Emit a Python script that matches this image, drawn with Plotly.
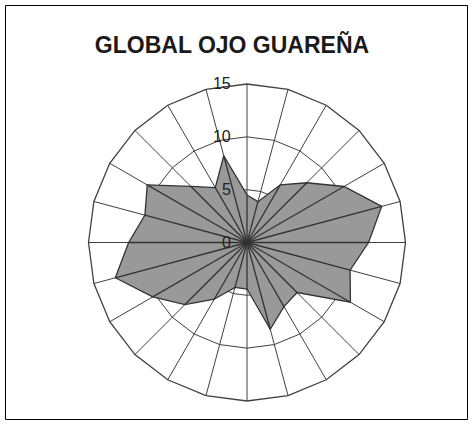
import plotly.graph_objects as go

title_text = "GLOBAL OJO GUAREÑA"
directions = [str(d) for d in range(0, 360, 15)]
values = [4.5, 4.0, 6.3, 8.0, 10.6, 13.2, 11.5, 10.1, 11.3, 6.7, 7.0, 8.5,
          4.4, 4.4, 6.2, 8.3, 10.3, 12.9, 11.2, 10.0, 10.9, 7.5, 6.0, 8.5]
radial_ticks = [0, 5, 10, 15]

W, H = 474, 425
fig = go.Figure()

# filled series
fig.add_trace(go.Scatterpolar(
    r=values + [values[0]], theta=directions + [directions[0]],
    mode="lines", fill="toself", fillcolor="#999999",
    line=dict(color="#333333", width=1.3), hoverinfo="skip", showlegend=False))

# spokes drawn on top of the fill (Excel style)
sr, st = [], []
for d, v in zip(directions, values):
    sr += [0, v, None]
    st += [d, d, None]
fig.add_trace(go.Scatterpolar(
    r=sr, theta=st, mode="lines", connectgaps=False,
    line=dict(color="#333333", width=1.3), hoverinfo="skip", showlegend=False))

# tick labels sit a little to the left of the vertical axis
def padded(v):
    return str(v) + "\u00a0" * 3

cx, cy, rad = 247, 242.5, 158.5
fig.update_layout(
    width=W, height=H,
    margin=dict(l=0, r=0, t=0, b=0),
    paper_bgcolor="white",
    showlegend=False,
    title=dict(text=title_text, x=232 / W, xanchor="center",
               y=1 - 45 / H, yanchor="middle",
               font=dict(family="Arial, Liberation Sans", size=23, color="#1a1a1a", weight="bold")),
    polar=dict(
        domain=dict(x=[(cx - rad) / W, (cx + rad) / W],
                    y=[1 - (cy + rad) / H, 1 - (cy - rad) / H]),
        bgcolor="white",
        gridshape="linear",
        angularaxis=dict(type="category", categoryarray=directions,
                         direction="clockwise", rotation=90,
                         showticklabels=False, ticks="",
                         showgrid=True, gridcolor="#404040", gridwidth=1.3,
                         showline=True, linecolor="#404040", linewidth=1.3),
        radialaxis=dict(range=[0, 15], tickvals=radial_ticks,
                        ticktext=[padded(v) for v in radial_ticks],
                        angle=90, side="counterclockwise", tickangle=90,
                        showline=False, ticks="",
                        showgrid=True, gridcolor="#404040", gridwidth=1.3,
                        tickfont=dict(family="Arial, Liberation Sans", size=16, color="#222222")),
    ),
    shapes=[dict(type="rect", xref="paper", yref="paper",
                 x0=5.5 / W, x1=467.5 / W, y0=1 - 419.5 / H, y1=1 - 5.5 / H,
                 line=dict(color="black", width=1), fillcolor="rgba(0,0,0,0)")],
)

fig.write_html("out.html")
